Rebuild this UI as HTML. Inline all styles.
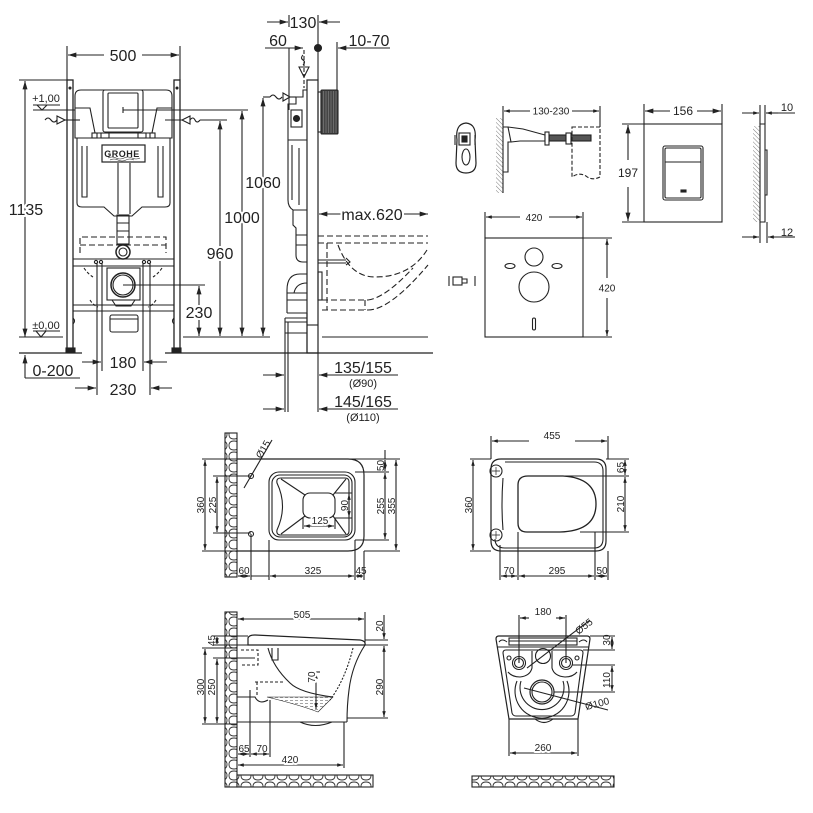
<!DOCTYPE html>
<html><head><meta charset="utf-8"><style>
html,body{margin:0;padding:0;background:#fff;}
svg{display:block;}
text{font-family:"Liberation Sans",Arial,sans-serif;fill:#222;text-anchor:middle;}
.L{font-size:16px;}
.M{font-size:12px;}
.T{font-size:11px;}
.S{font-size:10px;}
.h{paint-order:stroke;stroke:#fff;stroke-width:4px;stroke-linejoin:round;}
</style></head><body>
<svg width="813" height="813" viewBox="0 0 813 813" xmlns="http://www.w3.org/2000/svg">
<defs>
<marker id="a" viewBox="0 0 10 6" refX="10" refY="3" markerWidth="9" markerHeight="5" markerUnits="userSpaceOnUse" orient="auto-start-reverse"><path d="M0,0L10,3L0,6z" fill="#222"/></marker>
<marker id="b" viewBox="0 0 10 6" refX="10" refY="3" markerWidth="6" markerHeight="3.5" markerUnits="userSpaceOnUse" orient="auto-start-reverse"><path d="M0,0L10,3L0,6z" fill="#222"/></marker>
<pattern id="ht" width="3" height="3" patternUnits="userSpaceOnUse" patternTransform="rotate(-45)"><line x1="0" y1="0" x2="0" y2="3" stroke="#444" stroke-width="0.7"/></pattern>
<pattern id="st" width="12" height="11" patternUnits="userSpaceOnUse"><rect width="12" height="11" fill="#fff"/><path d="M1,5.5Q1,1 6,1Q11,1 11,5.5Q11,10 6,10Q1,10 1,5.5Z" fill="none" stroke="#333" stroke-width="0.9"/></pattern>
<pattern id="wt" width="5" height="3" patternUnits="userSpaceOnUse"><line x1="0" y1="1.5" x2="3" y2="1.5" stroke="#666" stroke-width="0.6"/></pattern>
</defs>

<g fill="none" stroke="#222" stroke-width="1.1">
<!-- ============ FRONT VIEW (top-left) ============ -->
<path d="M67,46V80M180,46V80"/>
<path d="M104,55H68" marker-end="url(#a)"/>
<path d="M142,55H179" marker-end="url(#a)"/>
<rect x="67" y="80" width="6" height="270" stroke-width="1.3"/>
<rect x="174" y="80" width="6" height="270" stroke-width="1.3"/>
<path d="M73,318q3,3 0,6M174,318q-3,3 0,6"/>
<rect x="66" y="348" width="9" height="4" fill="#222"/>
<rect x="172" y="348" width="9" height="4" fill="#222"/>
<circle cx="70" cy="88" r="1" fill="#222"/><circle cx="177" cy="88" r="1" fill="#222"/>
<path d="M75,138V96Q75,90 81,90H166Q172,90 172,96V138Z"/>
<path d="M75,108H90L95,133H152L157,108H172"/>
<rect x="92" y="133" width="5" height="5"/><rect x="101" y="133" width="8" height="5"/><rect x="138" y="133" width="8" height="5"/><rect x="150" y="133" width="5" height="5"/>
<rect x="103" y="90" width="40" height="42" rx="2" fill="#fff"/>
<rect x="108" y="93" width="30" height="35" rx="1"/>
<path d="M123,107V113"/>
<path d="M77,138V203Q77,207 82,207H104L114,216H132L142,207H165Q170,207 170,203V138"/>
<path d="M82,146V197H87V146M158,146V197H163V146M118,163V214M130,163V214"/>
<rect x="102" y="145" width="43" height="17" stroke-width="1.2"/>
<path d="M108,158q4,-2 8,0t8,0t8,0t8,0M110,160q4,-2 8,0t8,0t8,0" stroke-width="0.6"/>
<rect x="117" y="215" width="12" height="29"/>
<path d="M117,223H129M117,231H129"/>
<circle cx="123" cy="252" r="7" stroke-width="1.5"/><circle cx="123" cy="252" r="4"/>
<path d="M80,253V237H166V253" stroke-dasharray="6,3"/>
<path d="M80,245H166" stroke-dasharray="6,3"/>
<path d="M73,259H174M73,266H174M73,305H174M73,311H174"/>
<circle cx="96" cy="262" r="1.6"/><circle cx="101" cy="262" r="1.6"/><circle cx="144" cy="262" r="1.6"/><circle cx="149" cy="262" r="1.6"/>
<path d="M84,268q4,6 9,9M162,268q-4,6 -9,9M90,300q3,5 8,7M156,300q-3,5 -8,7" stroke-dasharray="3,2"/>
<rect x="107" y="268" width="33" height="32"/>
<circle cx="123" cy="285" r="12" stroke-width="1.5"/><circle cx="123" cy="285" r="10"/>
<path d="M112,300L116,306H131L135,300"/>
<rect x="110" y="315" width="28" height="17" rx="2"/>
<path d="M110,319H138"/>
<path d="M97,263V395M102,263V371M143,263V371M150,263V395"/>
<path d="M19,80H67"/>
<path d="M25,81V337" marker-start="url(#a)" marker-end="url(#a)"/>
<path d="M33,110H75M123,110H248"/>
<path d="M33,105H60M19,337H63M33,331H60"/>
<path d="M37,105L47,105L42,110Z"/>
<path d="M36,331L46,331L41,337Z"/>
<path d="M19,353H82M165,353H433" stroke-width="1.2"/>
<path d="M45,120q3,-4 6,0t6,0"/>
<path d="M57,116L65,120L57,124Z"/>
<path d="M65,120H80"/>
<path d="M190,116L182,120L190,124Z"/>
<path d="M190,120q3,-4 5,0t5,0"/>
<path d="M165,120H182M200,120H227"/>
<path d="M242,111V336" marker-start="url(#a)" marker-end="url(#a)"/>
<path d="M220,121V336" marker-start="url(#a)" marker-end="url(#a)"/>
<path d="M263,98V336" marker-start="url(#a)" marker-end="url(#a)"/>
<path d="M199,286V336" marker-start="url(#a)" marker-end="url(#a)"/>
<path d="M123,285H205M183,337H270"/>
<path d="M82,362H101" marker-end="url(#a)"/>
<path d="M167,362H144" marker-end="url(#a)"/>
<path d="M75,388H96" marker-end="url(#a)"/>
<path d="M172,388H151" marker-end="url(#a)"/>
<path d="M25,378V355" marker-end="url(#a)"/>
<path d="M25,378H80"/>

<!-- ============ SIDE VIEW ============ -->
<path d="M289,15V27M289,48V110M318,15V80M337,42V92"/>
<path d="M267,22H288" marker-end="url(#a)"/>
<path d="M340,22H319" marker-end="url(#a)"/>
<path d="M265,48H303" marker-end="url(#a)"/>
<path d="M390,48H338" marker-end="url(#a)"/>
<circle cx="318" cy="48" r="3.5" fill="#222"/>
<path d="M304,50V88" stroke-dasharray="4,2"/>
<path d="M303,55q-3,3 0,5t0,5"/>
<path d="M299,67H309L304,77Z"/>
<rect x="307" y="80" width="11" height="273" stroke-width="1.2"/>
<path d="M307,325H318"/>
<rect x="318" y="92" width="3" height="40"/>
<rect x="321" y="90" width="17" height="44" rx="1" fill="#444"/>
<path d="M323.5,91V133M326,91V133M328.5,91V133M331,91V133M333.5,91V133M336,91V133" stroke="#888" stroke-width="0.6"/>
<path d="M307,90H303V97H296V104H288V200Q288,207 293,210V225L296,228V255Q296,262 303,262H307"/>
<path d="M288,140H307M292,145V200M299,148V205M293,210H307"/>
<rect x="291" y="110" width="11" height="17"/>
<circle cx="296.5" cy="118.5" r="3" fill="#222"/>
<path d="M296,235H307M296,245H307"/>
<path d="M307,274H300Q287,274 287,290V313"/>
<path d="M307,283Q296,283 294,293"/>
<path d="M287,293H307M287,300H307M287,313H307"/>
<path d="M285,318H307M285,322H307M285,333H307"/>
<path d="M285,318V412M288,322V412M307,313V353"/>
<rect x="318" y="272" width="4" height="28"/>
<path d="M263,97H270"/>
<path d="M270,97q3,-4 6,0t6,0"/>
<path d="M283,93L290,97L283,101Z"/>
<path d="M290,97H296"/>
<g stroke-dasharray="6,3">
<path d="M318,236H428M318,243H428"/>
<path d="M327,243V310"/>
<path d="M322,300H368M322,310H368M365,300V310"/>
<path d="M338,245Q350,277 375,277Q410,277 427,250"/>
<path d="M368,300Q385,298 413,268M368,310Q390,310 428,265"/>
</g>
<path d="M318,260H346M318,263H346M346,258L350,262L346,265"/>
<path d="M322,337H428"/>
<path d="M342,214H319" marker-end="url(#a)"/>
<path d="M402,214H428" marker-end="url(#a)"/>
<path d="M318,353V412"/>
<path d="M263,375H284" marker-end="url(#a)"/>
<path d="M340,375H319" marker-end="url(#a)"/>
<path d="M340,375H398"/>
<path d="M263,409H284" marker-end="url(#a)"/>
<path d="M340,409H319" marker-end="url(#a)"/>
<path d="M340,409H398"/>

<!-- ============ TOP RIGHT ============ -->
<path d="M457,140Q455,124 466,123Q477,124 475,140L476,163Q476,173 466,173Q456,173 456,163Z" stroke-width="1.2"/>
<rect x="459" y="133" width="11" height="12"/>
<path d="M455,135V145M475,135V145"/>
<rect x="462" y="136" width="5" height="6" fill="#222"/>
<ellipse cx="466" cy="157" rx="4" ry="8"/>
<rect x="496" y="118" width="7" height="75" fill="url(#ht)" stroke="none"/>
<path d="M503,112V193"/>
<path d="M503,127H508L511,142H508V172H503"/>
<path d="M508,127L523,129L545,135V141H520L511,142"/>
<rect x="549" y="135" width="42" height="6" fill="#555"/>
<rect x="545" y="132" width="4" height="13" fill="#fff"/>
<rect x="566" y="133" width="5" height="11" fill="#fff"/>
<path d="M572,127H600V177Q592,181 586,176Q579,172 572,177Z" stroke-dasharray="4,2"/>
<path d="M503,106V112M600,106V127"/>
<path d="M530,111H504" marker-end="url(#b)"/>
<path d="M572,111H599" marker-end="url(#b)"/>
<rect x="644" y="124" width="78" height="98"/>
<rect x="663" y="146" width="40" height="54" rx="2"/>
<rect x="665" y="148" width="36" height="50" rx="1.5"/>
<path d="M665,162H701"/>
<rect x="681" y="190" width="5" height="2" fill="#222"/>
<path d="M644,104V124M722,104V124"/>
<path d="M670,111H645" marker-end="url(#a)"/>
<path d="M697,111H721" marker-end="url(#a)"/>
<path d="M622,124H644M622,222H644"/>
<path d="M628,160V125" marker-end="url(#a)"/>
<path d="M628,187V221" marker-end="url(#a)"/>
<rect x="753" y="126" width="7" height="96" fill="url(#ht)" stroke="none"/>
<path d="M760,124H765V222H760Z"/>
<path d="M765,150H767V195H765"/>
<path d="M760,105V124M765,105V124M760,222V243M767,222V243"/>
<path d="M742,113H759" marker-end="url(#b)"/>
<path d="M778,113H766" marker-end="url(#b)"/>
<path d="M778,113H795"/>
<path d="M742,237H759" marker-end="url(#b)"/>
<path d="M785,237H768" marker-end="url(#b)"/>
<path d="M785,237H795"/>
<rect x="485" y="238" width="98" height="99"/>
<circle cx="534" cy="257" r="9"/>
<circle cx="534" cy="287" r="15"/>
<ellipse cx="510" cy="266" rx="5" ry="2.5"/>
<ellipse cx="557" cy="266" rx="5" ry="2.5"/>
<rect x="532.5" y="318" width="3" height="12" rx="1.5"/>
<path d="M485,212V238M583,212V238"/>
<path d="M520,217H486" marker-end="url(#b)"/>
<path d="M549,217H582" marker-end="url(#b)"/>
<path d="M583,238H612M583,337H612"/>
<path d="M607,278V239" marker-end="url(#b)"/>
<path d="M607,298V336" marker-end="url(#b)"/>
<path d="M449,276V286M475,276V286"/>
<rect x="453" y="277" width="9" height="8"/>
<path d="M462,279H467V283H462"/>

<!-- ============ TOP VIEW BOWL (bottom-left) ============ -->
<rect x="225" y="433" width="12" height="144" fill="url(#st)"/>
<path d="M202,459H400M202,551H237M364,551H400"/>
<path d="M205,460V550" marker-start="url(#b)" marker-end="url(#b)"/>
<path d="M213,476H251M213,533H251"/>
<path d="M217,477V532" marker-start="url(#b)" marker-end="url(#b)"/>
<circle cx="251" cy="476" r="2.5"/><circle cx="251" cy="534" r="2.5"/>
<path d="M244,488L272,440"/>
<path d="M237,459H348Q364,459 364,475V536Q364,551 348,551H237" stroke-width="1.2"/>
<rect x="269" y="472" width="86" height="68" rx="10"/>
<rect x="272" y="475" width="80" height="62" rx="8"/>
<path d="M281,478H345Q349,478 349,482V531Q349,535 345,535H281Q276,535 277,530Q288,506 277,483Q276,478 281,478Z"/>
<rect x="303" y="493" width="32" height="25" rx="7"/>
<path d="M305,495L281,479M333,495L346,479M305,516L281,534M333,516L346,534"/>
<path d="M335,493H352M335,518H352"/>
<path d="M349,494V517" marker-start="url(#b)" marker-end="url(#b)"/>
<path d="M303,518V529M335,518V529"/>
<path d="M304,526H334" marker-start="url(#b)" marker-end="url(#b)"/>
<path d="M355,472H389M355,540H389"/>
<path d="M385,450V459"/>
<path d="M385,460V471" marker-start="url(#b)" marker-end="url(#b)"/>
<path d="M385,473V539" marker-start="url(#b)" marker-end="url(#b)"/>
<path d="M396,460V550" marker-start="url(#b)" marker-end="url(#b)"/>
<path d="M251,534V580M269,540V580M355,540V580M364,551V580"/>
<path d="M238,576H250" marker-start="url(#b)" marker-end="url(#b)"/>
<path d="M251,576H269"/>
<path d="M270,576H354" marker-start="url(#b)" marker-end="url(#b)"/>
<path d="M356,576H363" marker-start="url(#b)" marker-end="url(#b)"/>

<!-- ============ TOP VIEW SEAT (bottom-right) ============ -->
<path d="M501,459H596Q606,459 606,469V541Q606,551 596,551H501Q491,551 491,541V469Q491,459 501,459Z" stroke-width="1.2"/>
<path d="M505,462H594Q603,462 603,471V539Q603,548 594,548H505Q495,548 495,539"/>
<path d="M503,478Q501,505 503,530" />
<circle cx="496" cy="471" r="6"/><circle cx="496" cy="535" r="6"/>
<path d="M492,471H500M496,467V475M492,535H500M496,531V539" stroke-width="0.7"/>
<path d="M528,476H563Q596,478 596,504Q596,531 560,532H527Q518,532 518,523V485Q518,476 528,476Z" stroke-width="1.3"/>
<path d="M491,436V459M608,436V459"/>
<path d="M492,441H529" marker-start="url(#b)"/>
<path d="M575,441H607" marker-end="url(#b)"/>
<path d="M470,459H491M470,551H491"/>
<path d="M473,460V550" marker-start="url(#b)" marker-end="url(#b)"/>
<path d="M606,459H629M560,476H629M580,532H629"/>
<path d="M625,460V475" marker-start="url(#b)" marker-end="url(#b)"/>
<path d="M625,477V531" marker-start="url(#b)" marker-end="url(#b)"/>
<path d="M500,545V580M518,532V580M595,532V580M608,551V580"/>
<path d="M501,576H517" marker-start="url(#b)" marker-end="url(#b)"/>
<path d="M519,576H594" marker-start="url(#b)" marker-end="url(#b)"/>
<path d="M596,576H607" marker-start="url(#b)" marker-end="url(#b)"/>

<!-- ============ SIDE VIEW BOWL (bottom-left) ============ -->
<rect x="225" y="612" width="12" height="175" fill="url(#st)"/>
<rect x="237" y="775" width="136" height="12" fill="url(#st)"/>
<path d="M365,612V645"/>
<path d="M238,619H364" marker-start="url(#b)" marker-end="url(#b)"/>
<path d="M248,645V638Q249,635 255,635L360,640Q366,641 365,645Z" stroke-width="1.2"/>
<path d="M237,645H388"/>
<path d="M365,645Q352,665 349,690Q347,705 347,722"/>
<path d="M237,722H347"/>
<path d="M300,722Q315,729 332,722"/>
<path d="M268,648Q273,667 290,683Q300,693 333,697"/>
<path d="M353,648Q345,680 330,700" stroke-dasharray="2,1.5"/>
<path d="M267,697H333L318,712Q300,705 267,697Z" fill="url(#wt)" stroke-width="0.6"/>
<path d="M241,650H258V665H241" stroke-dasharray="3,2"/>
<path d="M272,648V660H278V648"/>
<path d="M255,682H285M257,682V697" stroke-dasharray="3,2"/>
<path d="M237,697H255Q259,705 268,700"/>
<path d="M250,690V757M270,700V757"/>
<path d="M238,754H249" marker-start="url(#b)" marker-end="url(#b)"/>
<path d="M251,754H269" marker-start="url(#b)" marker-end="url(#b)"/>
<path d="M344,722V768"/>
<path d="M238,765H343" marker-start="url(#b)" marker-end="url(#b)"/>
<path d="M213,636H248M213,645H237M202,648H237M213,658H255M202,724H237"/>
<path d="M217,637V644" marker-start="url(#b)" marker-end="url(#b)"/>
<path d="M205,649V723" marker-start="url(#b)" marker-end="url(#b)"/>
<path d="M217,659V723" marker-start="url(#b)" marker-end="url(#b)"/>
<path d="M365,640H388M347,718H388"/>
<path d="M384,615V639" marker-end="url(#b)"/>
<path d="M384,646V717" marker-start="url(#b)" marker-end="url(#b)"/>
<path d="M316,673V709" marker-start="url(#b)" marker-end="url(#b)"/>
<path d="M312,672H320"/>

<!-- ============ FRONT VIEW BOWL (bottom-right) ============ -->
<path d="M499,636H587Q590,636 590,639L578,719H509L496,639Q496,636 499,636Z" stroke-width="1.2"/>
<path d="M535,719Q544,726 553,719"/>
<path d="M497,647H589"/>
<rect x="509" y="638" width="68" height="7"/>
<path d="M509,641H577"/>
<path d="M499,642Q502,638 507,642M579,642Q584,638 587,642"/>
<path d="M503,653Q503,650 506,650H580Q583,650 583,653L575,713Q574,716 571,716H516Q513,716 512,713Z"/>
<path d="M532,651V668Q530,676 520,677Q512,677 508,672M552,651V668Q554,676 565,677Q573,677 577,672"/>
<circle cx="519" cy="663" r="6.5"/><circle cx="519" cy="663" r="4.5"/>
<circle cx="566" cy="663" r="6.5"/><circle cx="566" cy="663" r="4.5"/>
<circle cx="509" cy="658" r="2"/><circle cx="577" cy="658" r="2"/>
<circle cx="543" cy="656" r="7.5"/>
<path d="M517,681A27,27 0 1,0 567,681"/>
<path d="M521,681A22,22 0 1,0 563,681"/>
<circle cx="542" cy="692" r="12" stroke-width="1.2"/>
<circle cx="542" cy="692" r="10"/>
<path d="M519,615V663M566,615V663"/>
<path d="M520,618H529" marker-start="url(#b)"/>
<path d="M556,618H565" marker-end="url(#b)"/>
<path d="M527,668L590,620"/>
<path d="M590,636H615M583,650H615"/>
<path d="M612,637V649" marker-start="url(#b)" marker-end="url(#b)"/>
<path d="M572,665H615M554,692H615"/>
<path d="M612,666V691" marker-start="url(#b)" marker-end="url(#b)"/>
<path d="M524,688L608,710"/>
<path d="M509,719V756M578,719V756"/>
<path d="M510,753H577" marker-start="url(#b)" marker-end="url(#b)"/>
<rect x="472" y="776" width="142" height="11" fill="url(#st)"/>
</g>

<!-- ============ TEXT ============ -->
<text x="123" y="61" class="L h">500</text>
<text x="26" y="215" class="L h">1135</text>
<text x="46" y="102" class="T">+1,00</text>
<text x="46" y="329" class="T">±0,00</text>
<text x="263" y="188" class="L h">1060</text>
<text x="242" y="223" class="L h">1000</text>
<text x="220" y="259" class="L h">960</text>
<text x="199" y="318" class="L h">230</text>
<text x="123" y="368" class="L">180</text>
<text x="123" y="395" class="L">230</text>
<text x="53" y="376" class="L">0-200</text>
<text x="303" y="28" class="L">130</text>
<text x="278" y="46" class="L">60</text>
<text x="369" y="46" class="L">10-70</text>
<text x="372" y="220" class="L h">max.620</text>
<text x="363" y="373" class="L">135/155</text>
<text x="363" y="387" class="T">(Ø90)</text>
<text x="363" y="407" class="L">145/165</text>
<text x="363" y="421" class="T">(Ø110)</text>

<text x="551" y="114.5" class="S h">130-230</text>
<text x="683" y="115" class="M h">156</text>
<text x="628" y="177" class="M h">197</text>
<text x="787" y="111" class="T">10</text>
<text x="787" y="236" class="T">12</text>
<text x="534" y="221" class="S h">420</text>
<text x="607" y="291.5" class="S h">420</text>

<g class="S">
<text x="204" y="505" class="S" transform="rotate(-90 204 505)">360</text>
<text x="216" y="505" class="S" transform="rotate(-90 216 505)">225</text>
<text x="384" y="465.5" class="S" transform="rotate(-90 384 465.5)">50</text>
<text x="384" y="506" class="S" transform="rotate(-90 384 506)">255</text>
<text x="395" y="506" class="S" transform="rotate(-90 395 506)">355</text>
<text x="348" y="505.5" class="S" transform="rotate(-90 348 505.5)">90</text>
<text x="320" y="524" class="S h">125</text>
<text x="266" y="451" class="S" transform="rotate(-60 266 451)">Ø15</text>
<text x="244" y="574" class="S">60</text>
<text x="313" y="574" class="S">325</text>
<text x="361" y="574" class="S">45</text>

<text x="552" y="439" class="S h">455</text>
<text x="472" y="505" class="S" transform="rotate(-90 472 505)">360</text>
<text x="624" y="467.5" class="S" transform="rotate(-90 624 467.5)">65</text>
<text x="624" y="504" class="S" transform="rotate(-90 624 504)">210</text>
<text x="509" y="574" class="S">70</text>
<text x="557" y="574" class="S">295</text>
<text x="602" y="574" class="S">50</text>

<text x="302" y="618" class="S h">505</text>
<text x="215" y="640.5" class="S" transform="rotate(-90 215 640.5)">45</text>
<text x="204" y="687" class="S" transform="rotate(-90 204 687)">300</text>
<text x="215" y="687" class="S" transform="rotate(-90 215 687)">250</text>
<text x="383" y="626" class="S" transform="rotate(-90 383 626)">20</text>
<text x="383" y="687" class="S" transform="rotate(-90 383 687)">290</text>
<text x="315" y="677" class="S h" transform="rotate(-90 315 677)">70</text>
<text x="244" y="752" class="S">65</text>
<text x="262" y="752" class="S">70</text>
<text x="290" y="763" class="S h">420</text>

<text x="543" y="615" class="S h">180</text>
<text x="586" y="629" class="S" transform="rotate(-38 586 629)">Ø55</text>
<text x="610" y="640" class="S" transform="rotate(-90 610 640)">30</text>
<text x="610" y="680" class="S" transform="rotate(-90 610 680)">110</text>
<text x="598" y="707" class="S" transform="rotate(-15 598 707)">Ø100</text>
<text x="543" y="751" class="S h">260</text>
</g>
<text x="122" y="157" style="font-size:9px;font-weight:bold;letter-spacing:0.5px;">GROHE</text>
</svg>
</body></html>
